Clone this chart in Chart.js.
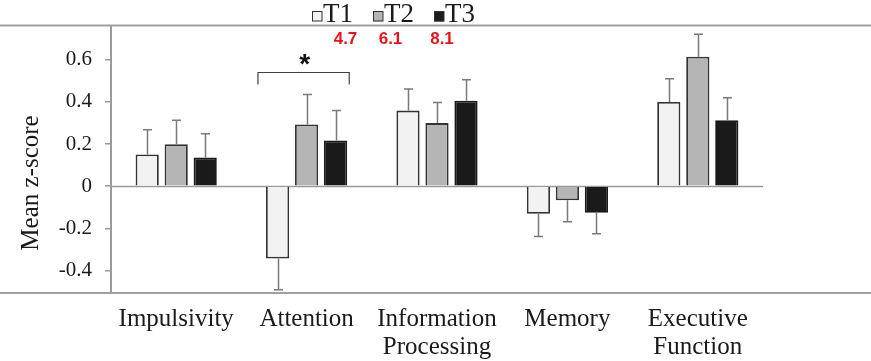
<!DOCTYPE html>
<html>
<head>
<meta charset="utf-8">
<script src="https://cdn.jsdelivr.net/npm/chart.js@4.4.1/dist/chart.umd.min.js"></script>
<style>
  html, body { margin: 0; padding: 0; background: #ffffff; }
  #wrap { width: 871px; height: 361px; position: relative; }
</style>
</head>
<body>
<div id="wrap"><canvas id="c" width="871" height="361"></canvas></div>
<script>
// ---- data ----
const categories = ['Impulsivity', 'Attention', ['Information', 'Processing'], 'Memory', ['Executive', 'Function']];
const seriesNames = ['T1', 'T2', 'T3'];
const t1Values = [0.150, -0.342, 0.358, -0.130, 0.399];
const t2Values = [0.199, 0.292, 0.299, -0.066, 0.613];
const t3Values = [0.136, 0.217, 0.405, -0.126, 0.313];
const t1Errors = [0.118, 0.148, 0.102, 0.108, 0.110];
const t2Errors = [0.113, 0.142, 0.098, 0.102, 0.107];
const t3Errors = [0.113, 0.142, 0.099, 0.099, 0.106];
const yTickValues = [-0.4, -0.2, 0, 0.2, 0.4, 0.6];
const yTickLabels = ['-0.4', '-0.2', '0', '0.2', '0.4', '0.6'];
const redNotes = ['4.7', '6.1', '8.1'];
const yTitle = 'Mean z-score';
const sigMark = '*';
const sigCategory = 1;

const fills = ['#f2f2f2', '#b5b5b5', '#1a1a1a'];
const borders = ['#333333', '#333333', '#1a1a1a'];
const errorSets = [t1Errors, t2Errors, t3Errors];
const valueSets = [t1Values, t2Values, t3Values];

const SERIF = "'Liberation Serif', 'Times New Roman', serif";
const SANS = "'Liberation Sans', Arial, sans-serif";

const decorPlugin = {
  id: 'decor',
  beforeDatasetsDraw(chart) {
    const ctx = chart.ctx;
    const ca = chart.chartArea;
    const y = chart.scales.y;
    ctx.save();
    ctx.strokeStyle = '#9a9a9a';
    ctx.lineWidth = 1.5;
    const y0 = Math.round(y.getPixelForValue(0)) + 0.5;
    ctx.beginPath();
    ctx.moveTo(ca.left, y0);
    ctx.lineTo(ca.right, y0);
    ctx.stroke();
    ctx.restore();
  },
  afterDatasetsDraw(chart) {
    const ctx = chart.ctx;
    const ys = chart.scales.y;
    const xs = chart.scales.x;
    ctx.save();
    // error bars
    ctx.strokeStyle = '#7a7a7a';
    ctx.lineWidth = 1.5;
    chart.data.datasets.forEach((ds, di) => {
      const meta = chart.getDatasetMeta(di);
      meta.data.forEach((bar, i) => {
        const v = ds.data[i];
        const e = errorSets[di][i];
        const end = v >= 0 ? v + e : v - e;
        const py = ys.getPixelForValue(end);
        const x = Math.round(bar.x) + 0.5;
        ctx.beginPath();
        ctx.moveTo(x, bar.y);
        ctx.lineTo(x, py);
        ctx.moveTo(x - 4.5, py);
        ctx.lineTo(x + 4.5, py);
        ctx.stroke();
      });
    });
    // significance bracket
    const cw = xs.getPixelForValue(1) - xs.getPixelForValue(0);
    const cx = xs.getPixelForValue(sigCategory) - 3;
    const half = cw * 0.35;
    const by = Math.round(ys.getPixelForValue(0.54)) + 0.5;
    const be = ys.getPixelForValue(0.482);
    ctx.strokeStyle = '#444';
    ctx.lineWidth = 1.2;
    ctx.beginPath();
    ctx.moveTo(cx - half, be);
    ctx.lineTo(cx - half, by);
    ctx.lineTo(cx + half, by);
    ctx.lineTo(cx + half, be);
    ctx.stroke();
    ctx.fillStyle = '#111';
    ctx.font = 'bold 28px ' + SANS;
    ctx.textAlign = 'center';
    ctx.textBaseline = 'alphabetic';
    ctx.fillText(sigMark, cx + 1, ys.getPixelForValue(0.536));
    ctx.restore();
  },
  afterDraw(chart) {
    const ctx = chart.ctx;
    const ca = chart.chartArea;
    ctx.save();
    // frame rules
    ctx.strokeStyle = '#a0a0a0';
    ctx.lineWidth = 2;
    ctx.beginPath();
    ctx.moveTo(0, ca.top);
    ctx.lineTo(chart.width, ca.top);
    ctx.moveTo(0, ca.bottom);
    ctx.lineTo(chart.width, ca.bottom);
    ctx.stroke();
    // legend
    ctx.font = '27px ' + SERIF;
    ctx.textAlign = 'left';
    ctx.textBaseline = 'alphabetic';
    seriesNames.forEach((name, i) => {
      const bx = 312 + 61 * i;
      ctx.fillStyle = fills[i];
      ctx.fillRect(bx, 11.5, 10, 10);
      ctx.strokeStyle = '#333';
      ctx.lineWidth = 1;
      ctx.strokeRect(bx + 0.5, 11.5, 9.5, 9.5);
      ctx.fillStyle = '#1a1a1a';
      ctx.fillText(name, bx + 11, 21.5);
    });
    // red notes
    ctx.font = 'bold 17px ' + SANS;
    ctx.fillStyle = '#e8141b';
    ctx.textAlign = 'center';
    const noteX = [345.5, 390.5, 442];
    redNotes.forEach((t, i) => ctx.fillText(t, noteX[i], 43.5));
    // y title
    ctx.save();
    ctx.translate(30, 183);
    ctx.rotate(-Math.PI / 2);
    ctx.font = '25px ' + SERIF;
    ctx.fillStyle = '#1a1a1a';
    ctx.textAlign = 'center';
    ctx.textBaseline = 'alphabetic';
    ctx.fillText(yTitle, 0, 8.3);
    ctx.restore();
    ctx.restore();
  }
};

const chart = new Chart(document.getElementById('c'), {
  type: 'bar',
  data: {
    labels: categories,
    datasets: seriesNames.map((n, i) => ({
      label: n,
      data: valueSets[i],
      backgroundColor: fills[i],
      borderColor: borders[i],
      borderWidth: 1.8,
      barPercentage: 0.8,
      categoryPercentage: 0.667
    }))
  },
  options: {
    responsive: false,
    devicePixelRatio: 1,
    animation: false,
    layout: { padding: { left: 0, right: 108, top: 25, bottom: 0 } },
    plugins: { legend: { display: false }, tooltip: { enabled: false } },
    scales: {
      x: {
        grid: { display: false },
        border: { display: false },
        ticks: {
          color: '#1a1a1a',
          font: { family: SERIF, size: 25, lineHeight: 1.13 },
          padding: 4,
          maxRotation: 0,
          autoSkip: false
        },
        afterFit(scale) { scale.height = 68; }
      },
      y: {
        min: -0.5054,
        max: 0.7605,
        grid: { display: true, drawOnChartArea: false, drawTicks: true, tickLength: 6, color: '#999', lineWidth: 1.5 },
        border: { display: true, color: '#9a9a9a', width: 2 },
        ticks: {
          color: '#1a1a1a',
          font: { family: SERIF, size: 21 },
          padding: 13,
          callback(value) {
            const idx = yTickValues.findIndex(v => Math.abs(v - value) < 1e-6);
            return idx >= 0 ? yTickLabels[idx] : '';
          }
        },
        afterBuildTicks(scale) { scale.ticks = yTickValues.map(v => ({ value: v })); },
        afterFit(scale) { scale.width = 111; }
      }
    }
  },
  plugins: [decorPlugin]
});
</script>
</body>
</html>
